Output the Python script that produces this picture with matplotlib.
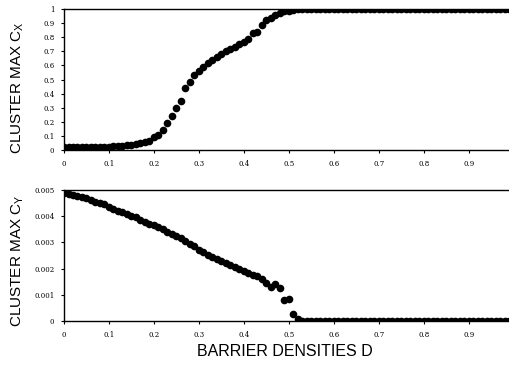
import numpy as np
import matplotlib
matplotlib.use("Agg")
import matplotlib.pyplot as plt

plt.rcParams['font.family'] = ['Liberation Sans', 'DejaVu Sans']
plt.rcParams['mathtext.default'] = 'regular'

# barrier density D, step 0.01
d = np.arange(100) / 100.0

# cluster max Cx (top)
cx = [0.02, 0.02, 0.02, 0.02, 0.02, 0.02, 0.02, 0.02, 0.02, 0.02,
      0.02, 0.025, 0.027, 0.03, 0.033, 0.036, 0.04, 0.048, 0.055, 0.065,
      0.09, 0.11, 0.14, 0.19, 0.24, 0.30, 0.35, 0.44, 0.48, 0.53,
      0.56, 0.59, 0.62, 0.64, 0.66, 0.68, 0.70, 0.715, 0.73, 0.75,
      0.77, 0.79, 0.83, 0.84, 0.89, 0.92, 0.94, 0.96, 0.975, 0.985,
      0.99, 0.995] + [1.0] * 48

# cluster max Cy (bottom), units of 1e-3
cy = [4.9, 4.85, 4.8, 4.78, 4.75, 4.7, 4.62, 4.55, 4.5, 4.45,
      4.35, 4.28, 4.2, 4.15, 4.08, 4.0, 3.95, 3.85, 3.78, 3.72,
      3.65, 3.57, 3.5, 3.4, 3.32, 3.25, 3.15, 3.05, 2.95, 2.85,
      2.72, 2.63, 2.52, 2.45, 2.37, 2.3, 2.2, 2.14, 2.08, 2.0,
      1.92, 1.85, 1.77, 1.72, 1.6, 1.45, 1.3, 1.42, 1.25, 0.8,
      0.85, 0.25, 0.08] + [0.0] * 47
cy = np.array(cy) / 1000.0

xticks = [0, 0.1, 0.2, 0.3, 0.4, 0.5, 0.6, 0.7, 0.8, 0.9]
xtick_labels = ["0", "0.1", "0.2", "0.3", "0.4", "0.5", "0.6", "0.7", "0.8", "0.9"]
cx_ticks = [0, 0.1, 0.2, 0.3, 0.4, 0.5, 0.6, 0.7, 0.8, 0.9, 1]
cx_labels = ["0", "0.1", "0.2", "0.3", "0.4", "0.5", "0.6", "0.7", "0.8", "0.9", "1"]
cy_ticks = [0, 0.001, 0.002, 0.003, 0.004, 0.005]
cy_labels = ["0", "0.001", "0.002", "0.003", "0.004", "0.005"]

fig = plt.figure(figsize=(5.1, 3.65), dpi=100)
ax1 = fig.add_axes([0.1255, 0.589, 0.882, 0.386])
ax2 = fig.add_axes([0.1255, 0.1205, 0.882, 0.359])

for ax, y, yt, yl, top in [(ax1, cx, cx_ticks, cx_labels, 1.0),
                           (ax2, cy, cy_ticks, cy_labels, 0.005)]:
    ax.plot(d, y, 'o', color='black', markersize=5.5, markeredgewidth=0)
    ax.set_xlim(0, 1.0)
    ax.set_ylim(0, top)
    ax.set_xticks(xticks)
    ax.set_xticklabels(xtick_labels, fontsize=5, family='DejaVu Serif')
    ax.set_yticks(yt)
    ax.set_yticklabels(yl, fontsize=5, family='DejaVu Serif')
    ax.tick_params(length=2, width=0.8, pad=5)
    ax.spines['right'].set_visible(False)
    for s in ['left', 'bottom', 'top']:
        ax.spines[s].set_linewidth(1.0)
    ax.patch.set_alpha(0)

ax1.set_ylabel("CLUSTER MAX C$_X$", fontsize=11)
ax2.set_ylabel("CLUSTER MAX C$_Y$", fontsize=11)
ax1.yaxis.set_label_coords(-0.085, 0.44)
ax2.yaxis.set_label_coords(-0.085, 0.46)
ax2.set_xlabel("BARRIER DENSITIES D", fontsize=11.5)
ax2.xaxis.set_label_coords((285 - 64) / 450.0, -0.175)

fig.savefig("out.png", dpi=100)
